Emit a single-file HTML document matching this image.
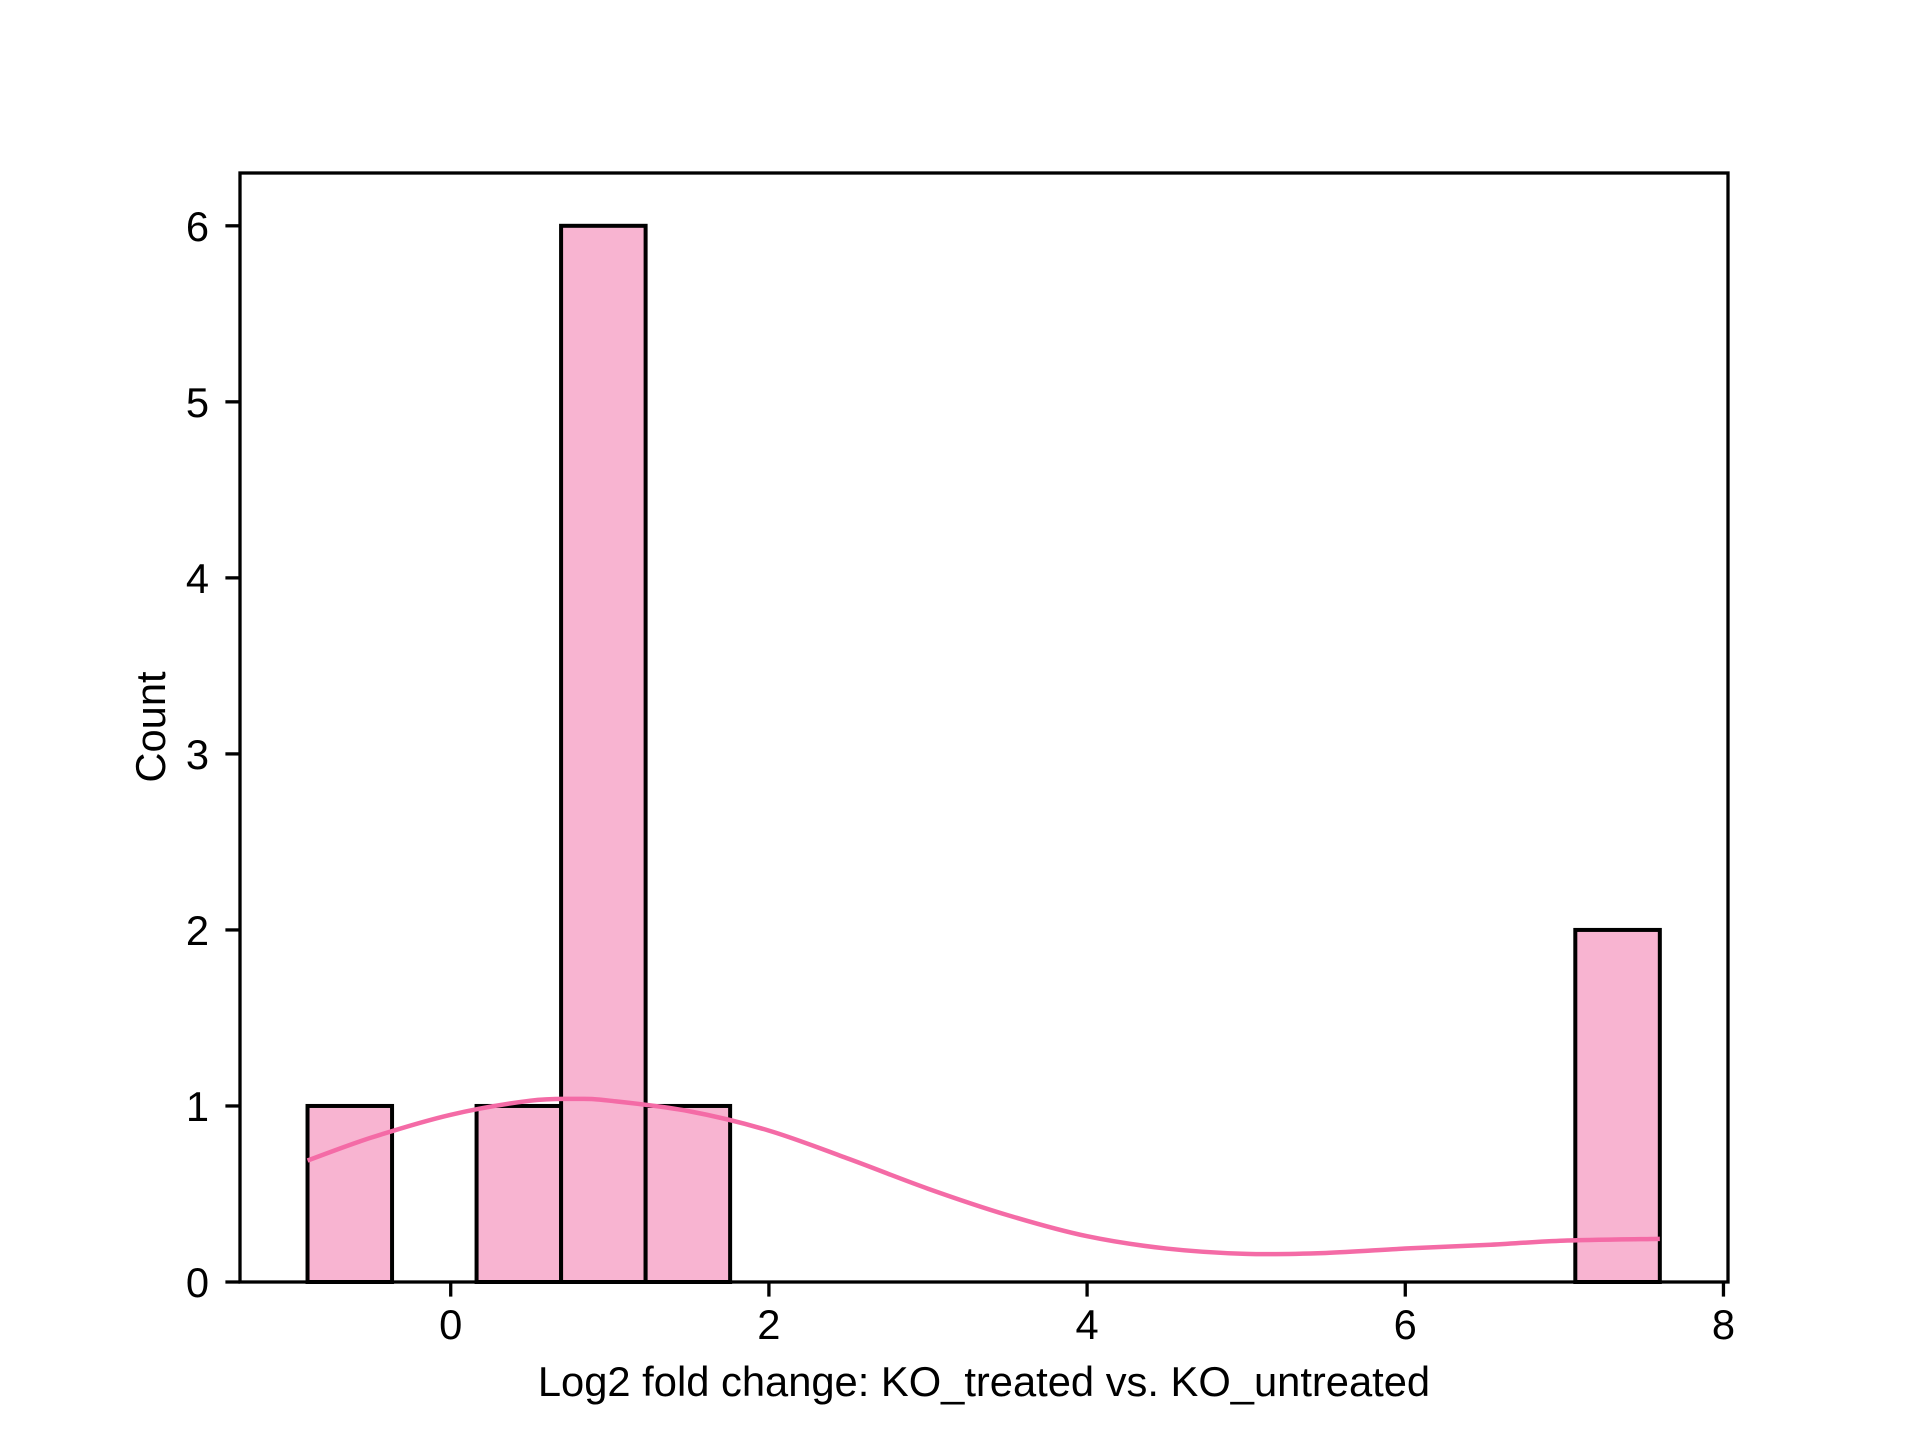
<!DOCTYPE html>
<html><head><meta charset="utf-8"><style>
html,body{margin:0;padding:0;background:#fff;}
svg{display:block;font-family:"Liberation Sans",Arial,sans-serif;}
</style></head><body>
<svg id="chart" width="1920" height="1440" viewBox="0 0 1920 1440" xmlns="http://www.w3.org/2000/svg">
<rect width="1920" height="1440" fill="#fff"/>
<g id="bars"></g>
<g id="kde"></g>
<g id="axes"></g>
<text x="984" y="1396" font-size="41.7" text-anchor="middle">Log2 fold change: KO_treated vs. KO_untreated</text>
<text transform="translate(165,727) rotate(-90)" font-size="41.7" text-anchor="middle">Count</text>
</svg>
<script>
const binStart = -0.9;
const binWidth = 0.53125;
const counts = [1,0,1,6,1,0,0,0,0,0,0,0,0,0,0,2];
const kdeX = [-0.9,-0.5,0,0.5,0.8,1.0,1.5,2,2.5,3,3.5,4,4.5,5,5.5,6,6.5,7,7.6];
const kdeY = [0.69,0.82,0.95,1.03,1.04,1.03,0.97,0.86,0.70,0.53,0.38,0.26,0.19,0.16,0.165,0.19,0.21,0.235,0.245];
const xTicks = [0,2,4,6,8];
const yTicks = [0,1,2,3,4,5,6];

const L=240,R=1728,T=173,B=1282;
const xMin=-1.3245,xMax=8.0285,yMin=0,yMax=6.3;
const sx=v=>L+(v-xMin)/(xMax-xMin)*(R-L);
const sy=v=>B-(v-yMin)/(yMax-yMin)*(B-T);
const NS="http://www.w3.org/2000/svg";
function mk(tag,parent,attrs){const e=document.createElementNS(NS,tag);for(const k in attrs)e.setAttribute(k,attrs[k]);parent.appendChild(e);return e;}

const bars=document.getElementById('bars');
counts.forEach((c,i)=>{
  if(c<=0) return;
  const x0=sx(binStart+i*binWidth), x1=sx(binStart+(i+1)*binWidth);
  const r=mk('rect',bars,{x:x0,y:sy(c),width:x1-x0,height:sy(0)-sy(c),fill:'#f8b4d1',stroke:'#000','stroke-width':4});
  
  
});

const kde=document.getElementById('kde');
// smooth curve via Catmull-Rom
const pts=kdeX.map((x,i)=>[sx(x),sy(kdeY[i])]);
let d='M'+pts[0][0]+','+pts[0][1];
for(let i=0;i<pts.length-1;i++){
  const p0=pts[Math.max(0,i-1)],p1=pts[i],p2=pts[i+1],p3=pts[Math.min(pts.length-1,i+2)];
  const c1=[p1[0]+(p2[0]-p0[0])/6,p1[1]+(p2[1]-p0[1])/6];
  const c2=[p2[0]-(p3[0]-p1[0])/6,p2[1]-(p3[1]-p1[1])/6];
  d+=' C'+c1[0]+','+c1[1]+' '+c2[0]+','+c2[1]+' '+p2[0]+','+p2[1];
}
const kp=mk('path',kde,{d:d,fill:'none',stroke:'#f46ba6','stroke-width':4.5});



const axes=document.getElementById('axes');
const frame=mk('rect',axes,{x:L,y:T,width:R-L,height:B-T,fill:'none',stroke:'#000','stroke-width':3.3});


xTicks.forEach(v=>{
  const x=sx(v);
  const t=mk('line',axes,{x1:x,x2:x,y1:B,y2:B+14.6,stroke:'#000','stroke-width':3.3});
  
  
  const lb=mk('text',axes,{x:x,y:B+57,'font-size':41.7,'text-anchor':'middle'});
  lb.textContent=v;
  
  
});
yTicks.forEach(v=>{
  const y=sy(v);
  const t=mk('line',axes,{x1:L-14.6,x2:L,y1:y,y2:y,stroke:'#000','stroke-width':3.3});
  
  
  const lb=mk('text',axes,{x:209,y:y+15,'font-size':41.7,'text-anchor':'end'});
  lb.textContent=v;
  
  
});
</script>
</body></html>
